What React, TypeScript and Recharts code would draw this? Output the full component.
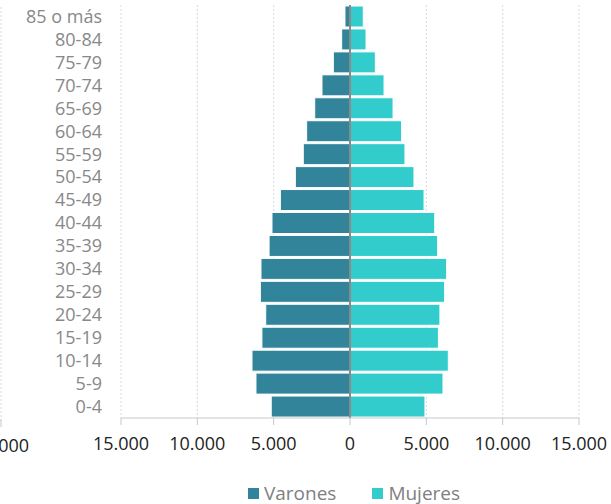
import React from 'react';
import { BarChart, Bar, XAxis, YAxis, CartesianGrid, ReferenceLine, Legend } from 'recharts';

const ageGroups = ['85 o más', '80-84', '75-79', '70-74', '65-69', '60-64', '55-59', '50-54', '45-49', '40-44', '35-39', '30-34', '25-29', '20-24', '15-19', '10-14', '5-9', '0-4'];
const varones = [330, 545, 1090, 1835, 2310, 2840, 3060, 3580, 4560, 5110, 5300, 5830, 5870, 5520, 5770, 6420, 6160, 5160];
const mujeres = [870, 1050, 1660, 2230, 2820, 3380, 3600, 4190, 4850, 5550, 5740, 6330, 6200, 5890, 5790, 6440, 6090, 4910];
const xTicks = [-15000, -10000, -5000, 0, 5000, 10000, 15000];
const neighbourTicks = [15000];

const COLOR_V = '#32849b';
const COLOR_M = '#33cccc';

const data = ageGroups.map((age, i) => ({ age, Varones: -varones[i], Mujeres: mujeres[i] }));

const fmt = (v: number) => String(Math.abs(v)).replace(/\B(?=(\d{3})+(?!\d))/g, '.');

const LegendContent = () => (
  <div style={{ height: 36, paddingTop: 16, paddingLeft: 97, boxSizing: 'border-box', display: 'flex', justifyContent: 'center', alignItems: 'flex-start', fontSize: 19, lineHeight: '18px', color: '#808080' }}>
    <span style={{ display: 'inline-flex', alignItems: 'center', marginRight: 36 }}>
      <span style={{ width: 11, height: 11, background: COLOR_V, display: 'inline-block', marginRight: 5 }} />
      Varones
    </span>
    <span style={{ display: 'inline-flex', alignItems: 'center' }}>
      <span style={{ width: 11, height: 11, background: COLOR_M, display: 'inline-block', marginRight: 5 }} />
      Mujeres
    </span>
  </div>
);

// Right edge of the neighbouring (cropped) chart visible at the far left of the reference
const NeighbourEdge = () => (
  <BarChart
    width={611}
    height={504}
    data={data}
    layout="vertical"
    stackOffset="sign"
    barCategoryGap={1}
    margin={{ top: 5, right: 32, left: 0, bottom: 36 }}
  >
    <CartesianGrid horizontal={false} vertical stroke="#d9d9d9" strokeDasharray="2 2" />
    <XAxis
      type="number"
      domain={[-15000, 15000]}
      ticks={neighbourTicks}
      tickFormatter={fmt}
      height={50}
      tickSize={7}
      tickMargin={12}
      axisLine={{ stroke: '#c8c8c8' }}
      tickLine={{ stroke: '#c8c8c8' }}
      tick={{ fill: '#222', fontSize: 18 }}
      interval={0}
    />
    <YAxis type="category" dataKey="age" width={121} axisLine={false} tickLine={false} tick={false} />
    <Bar dataKey="Varones" stackId="p" fill={COLOR_V} stroke="#fff" strokeWidth={1} isAnimationActive={false} />
    <Bar dataKey="Mujeres" stackId="p" fill={COLOR_M} stroke="#fff" strokeWidth={1} isAnimationActive={false} />
  </BarChart>
);

const Pyramid = () => (
  <BarChart
    width={611}
    height={504}
    data={data}
    layout="vertical"
    stackOffset="sign"
    barCategoryGap={1}
    margin={{ top: 5, right: 32, left: 0, bottom: 0 }}
  >
    <CartesianGrid horizontal={false} vertical stroke="#d9d9d9" strokeDasharray="2 2" />
    <XAxis
      type="number"
      domain={[-15000, 15000]}
      ticks={xTicks}
      tickFormatter={fmt}
      height={50}
      tickSize={7}
      tickMargin={12}
      axisLine={{ stroke: '#c8c8c8' }}
      tickLine={{ stroke: '#c8c8c8' }}
      tick={{ fill: '#222', fontSize: 18 }}
      interval={0}
    />
    <YAxis
      type="category"
      dataKey="age"
      width={121}
      axisLine={false}
      tickLine={false}
      tickSize={0}
      tickMargin={19}
      interval={0}
      tick={{ fill: '#888', fontSize: 18 }}
    />
    <Bar dataKey="Varones" stackId="p" fill={COLOR_V} stroke="#fff" strokeWidth={1} isAnimationActive={false} />
    <Bar dataKey="Mujeres" stackId="p" fill={COLOR_M} stroke="#fff" strokeWidth={1} isAnimationActive={false} />
    <ReferenceLine x={0} stroke="#8a8a8a" strokeWidth={2} />
    <Legend verticalAlign="bottom" height={36} content={<LegendContent />} wrapperStyle={{ left: 0, width: 611 }} />
  </BarChart>
);

export default function App() {
  return (
    <div style={{ position: 'absolute', top: 0, left: 0, width: 611, height: 504, overflow: 'hidden', background: '#fff', fontFamily: '"Open Sans", sans-serif' }}>
      <div style={{ position: 'absolute', top: 2, left: -578 }}>
        <NeighbourEdge />
      </div>
      <div style={{ position: 'absolute', top: 0, left: 0 }}>
        <Pyramid />
      </div>
    </div>
  );
}
